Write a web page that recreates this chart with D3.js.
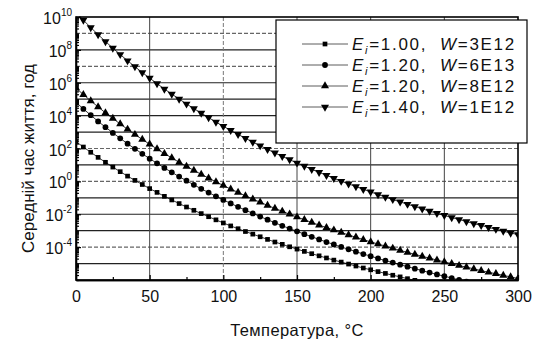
<!DOCTYPE html>
<html><head><meta charset="utf-8">
<script src="https://cdn.jsdelivr.net/npm/d3@7"></script>
<style>body{margin:0;background:#fff}svg{display:block;font-family:"Liberation Sans",Arial,sans-serif}</style>
</head><body><svg id="c" width="537" height="342"></svg>
<script>
// Temperature, °C (every 5 °C)
const temps = d3.range(0, 301, 5);
// log10 of mean lifetime
const lifeA = [2.42,2.09,1.77,1.46,1.16,0.87,0.59,0.32,0.06,-0.19,-0.44,-0.67,-0.91,-1.13,-1.35,-1.56,-1.76,-1.96,-2.15,-2.34,-2.53,-2.71,-2.88,-3.05,-3.21,-3.37,-3.53,-3.69,-3.83,-3.98,-4.12,-4.26,-4.40,-4.53,-4.66,-4.79,-4.91,-5.03,-5.15,-5.27,-5.38,-5.49,-5.60,-5.71,-5.81,-5.92,-6.02,-6.12,-6.21,-6.31,-6.40,-6.49,-6.58,-6.67,-6.75,-6.84,-6.92,-7.00,-7.08,-7.16,-7.24];
const lifeB = [4.81,4.41,4.03,3.65,3.30,2.95,2.62,2.29,1.98,1.68,1.38,1.10,0.82,0.55,0.29,0.04,-0.21,-0.45,-0.68,-0.91,-1.13,-1.34,-1.55,-1.75,-1.95,-2.14,-2.33,-2.52,-2.70,-2.87,-3.04,-3.21,-3.37,-3.53,-3.69,-3.84,-3.99,-4.13,-4.28,-4.42,-4.55,-4.69,-4.82,-4.94,-5.07,-5.19,-5.31,-5.43,-5.55,-5.66,-5.77,-5.88,-5.99,-6.10,-6.20,-6.30,-6.40,-6.50,-6.59,-6.69,-6.78];
const lifeC = [5.68,5.28,4.90,4.53,4.17,3.83,3.49,3.17,2.85,2.55,2.26,1.97,1.69,1.43,1.16,0.91,0.67,0.43,0.20,-0.03,-0.25,-0.47,-0.67,-0.88,-1.08,-1.27,-1.46,-1.64,-1.82,-2.00,-2.17,-2.33,-2.50,-2.66,-2.81,-2.96,-3.11,-3.26,-3.40,-3.54,-3.68,-3.81,-3.94,-4.07,-4.20,-4.32,-4.44,-4.56,-4.67,-4.79,-4.90,-5.01,-5.12,-5.22,-5.32,-5.43,-5.53,-5.62,-5.72,-5.81,-5.91];
const lifeD = [10.28,9.81,9.36,8.93,8.51,8.11,7.72,7.34,6.98,6.62,6.28,5.95,5.62,5.31,5.01,4.71,4.43,4.15,3.88,3.61,3.35,3.10,2.86,2.62,2.39,2.17,1.95,1.73,1.52,1.32,1.12,0.93,0.73,0.55,0.37,0.19,0.01,-0.15,-0.32,-0.48,-0.64,-0.80,-0.95,-1.10,-1.25,-1.39,-1.53,-1.67,-1.81,-1.94,-2.07,-2.20,-2.32,-2.44,-2.57,-2.68,-2.80,-2.91,-3.03,-3.14,-3.24];
const seriesE = ["1.00","1.20","1.20","1.40"];
const seriesW = ["3E12","6E13","8E12","1E12"];
const seriesMarker = ["square","circle","triangle","triangleDown"];
const xTicks = [0,50,100,150,200,250,300];
const yTickExps = [10,8,6,4,2,0,-2,-4];
const xTitle = "Температура, °C";
const yTitle = "Середній час життя, год";

const series = [lifeA, lifeB, lifeC, lifeD].map((v,k)=>({
  E: seriesE[k], W: seriesW[k], marker: seriesMarker[k],
  pts: temps.map((t,i)=>({t, v: Math.pow(10, v[i])}))
}));

const svg = d3.select("#c");
const L=76, R=518, T=17, B=280;
const x = d3.scaleLinear().domain([0,300]).range([L,R]);
const y = d3.scaleLog().domain([1e-6,1e10]).range([B,T]);

svg.append("rect").attr("width",537).attr("height",342).attr("fill","#fff");

// grid
const dashedY = new Set([9,7,2,0,-4]);
const g = svg.append("g");
d3.range(-5,10).forEach(e=>{
  g.append("line").attr("x1",L).attr("x2",R).attr("y1",y(Math.pow(10,e))).attr("y2",y(Math.pow(10,e)))
   .attr("stroke", dashedY.has(e)?"#666":"#222").attr("stroke-width",1.2)
   .attr("stroke-dasharray", dashedY.has(e)?"4,2":null);
});
[50,100,150,200,250].forEach(t=>{
  g.append("line").attr("x1",x(t)).attr("x2",x(t)).attr("y1",T).attr("y2",B)
   .attr("stroke", t===100?"#777":"#444").attr("stroke-width",1)
   .attr("stroke-dasharray", t===100?"4,2":null);
});

// data
svg.append("clipPath").attr("id","pc").append("rect").attr("x",L).attr("y",T-1).attr("width",R-L).attr("height",B-T+1);
const sym = {
  square: d3.symbol().type(d3.symbolSquare).size(22),
  circle: d3.symbol().type(d3.symbolCircle).size(26),
  triangle: d3.symbol().type(d3.symbolTriangle).size(28),
  triangleDown: d3.symbol().type(d3.symbolTriangle).size(28)
};
const dg = svg.append("g").attr("clip-path","url(#pc)");
const line = d3.line().x(d=>x(d.t)).y(d=>y(d.v));
series.forEach(s=>{
  dg.append("path").attr("d",line(s.pts)).attr("fill","none").attr("stroke","#000").attr("stroke-width",0.8);
  dg.selectAll(null).data(s.pts).join("path")
    .attr("d",sym[s.marker]())
    .attr("transform",d=>`translate(${x(d.t)},${y(d.v)})${s.marker==="triangleDown"?" rotate(180)":""}`)
    .attr("fill","#000");
});

// axes
const xAxis = d3.axisBottom(x).tickValues(xTicks).tickSizeInner(-5).tickSizeOuter(0).tickPadding(11);
const xa = svg.append("g").attr("transform",`translate(0,${B})`).call(xAxis);
xa.selectAll("text").attr("font-size",16).attr("fill","#111").attr("font-family","Liberation Sans, Arial");
const xm = svg.append("g").attr("transform",`translate(0,${B})`).call(d3.axisBottom(x).tickValues(d3.range(25,300,50)).tickSizeInner(-3).tickSizeOuter(0).tickFormat(""));
const yAxis = d3.axisLeft(y).tickValues(yTickExps.map(e=>Math.pow(10,e))).tickSizeInner(-5).tickSizeOuter(0).tickFormat("");
const ya = svg.append("g").attr("transform",`translate(${L},0)`).call(yAxis);
const minor = [];
d3.range(-6,10).forEach(e=>{ for(let m=1;m<10;m++) minor.push(m*Math.pow(10,e)); });
svg.append("g").attr("transform",`translate(${L},0)`).call(d3.axisLeft(y).tickValues(minor.filter(v=>v>=1e-6&&v<=1e10)).tickSizeInner(-3).tickSizeOuter(0).tickFormat(""));
[xa,xm,ya].forEach(a=>a.select(".domain").attr("stroke-width",1.6));
svg.selectAll(".tick line").attr("stroke","#000").attr("stroke-width",1.2);

yTickExps.forEach(e=>{
  const t = svg.append("text").attr("x",L-4).attr("y",y(Math.pow(10,e))+7).attr("text-anchor","end")
    .attr("font-size",16).attr("fill","#111");
  t.append("tspan").text("10");
  t.append("tspan").attr("font-size",10).attr("dy",-8).text(e);
});

// frame
svg.append("rect").attr("x",L).attr("y",T).attr("width",R-L).attr("height",B-T).attr("fill","none").attr("stroke","#000").attr("stroke-width",1.6);

// titles
svg.append("text").attr("x",(L+R)/2).attr("y",336).attr("text-anchor","middle").attr("font-size",16.5).attr("letter-spacing",0.4).attr("fill","#111").text(xTitle);
svg.append("text").attr("transform",`translate(34,${(T+B)/2+10}) rotate(-90)`).attr("text-anchor","middle").attr("font-size",17).attr("fill","#111").text(yTitle);

// legend
const lg = svg.append("g");
lg.append("rect").attr("x",276).attr("y",20).attr("width",251).attr("height",123).attr("fill","#fff").attr("stroke","#000").attr("stroke-width",1.2);
series.forEach((s,k)=>{
  const cy = 44 + k*21;
  lg.append("line").attr("x1",302).attr("x2",348).attr("y1",cy).attr("y2",cy).attr("stroke","#333").attr("stroke-width",0.8);
  lg.append("path").attr("d",sym[s.marker]()).attr("transform",`translate(325,${cy})${s.marker==="triangleDown"?" rotate(180)":""}`).attr("fill","#000");
  const t = lg.append("text").attr("x",352).attr("y",cy+6).attr("font-size",17).attr("letter-spacing",1.7).attr("fill","#111");
  t.append("tspan").attr("font-style","italic").text("E");
  t.append("tspan").attr("font-style","italic").attr("font-size",11).attr("dy",4).text("i");
  t.append("tspan").attr("dy",-4).text("=" + s.E + ",\u00a0\u00a0");
  t.append("tspan").attr("font-style","italic").text("W");
  t.append("tspan").text("=" + s.W);
});
</script></body></html>
